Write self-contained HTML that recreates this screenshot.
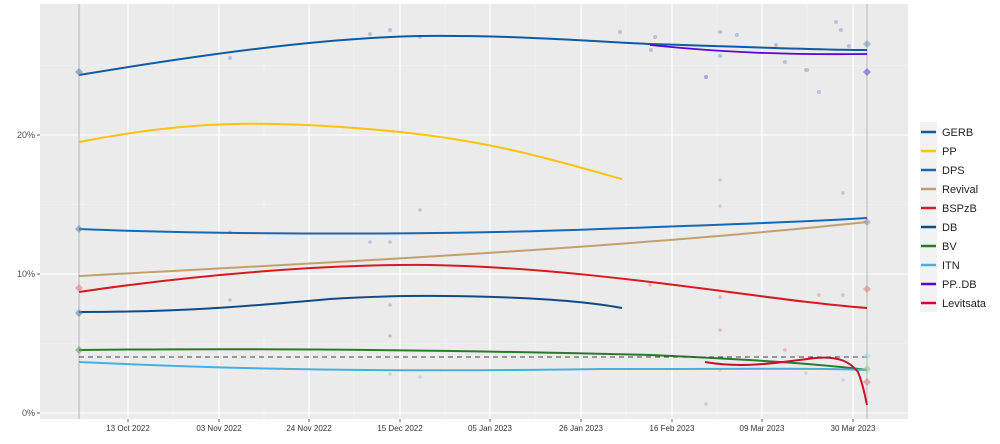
<!DOCTYPE html>
<html><head><meta charset="utf-8"><style>body{margin:0;background:#fff}svg{display:block;font-family:"Liberation Sans",sans-serif}</style></head><body>
<svg width="1000" height="444" viewBox="0 0 1000 444">
<rect x="40" y="4" width="868" height="415" fill="#ebebeb"/>
<g stroke="#f4f4f4" stroke-width="0.6">
<line x1="40" x2="908" y1="343.5" y2="343.5"/><line x1="40" x2="908" y1="204.5" y2="204.5"/><line x1="40" x2="908" y1="65.5" y2="65.5"/>
<line x1="83" x2="83" y1="4" y2="419"/><line x1="173" x2="173" y1="4" y2="419"/><line x1="264" x2="264" y1="4" y2="419"/><line x1="354" x2="354" y1="4" y2="419"/><line x1="445" x2="445" y1="4" y2="419"/><line x1="535" x2="535" y1="4" y2="419"/><line x1="626" x2="626" y1="4" y2="419"/><line x1="717" x2="717" y1="4" y2="419"/><line x1="807" x2="807" y1="4" y2="419"/>
</g>
<g stroke="#fff" stroke-width="1.1">
<line x1="40" x2="908" y1="413" y2="413"/><line x1="40" x2="908" y1="274" y2="274"/><line x1="40" x2="908" y1="135" y2="135"/>
<line x1="128" x2="128" y1="4" y2="419"/><line x1="219" x2="219" y1="4" y2="419"/><line x1="309" x2="309" y1="4" y2="419"/><line x1="400" x2="400" y1="4" y2="419"/><line x1="490" x2="490" y1="4" y2="419"/><line x1="581" x2="581" y1="4" y2="419"/><line x1="672" x2="672" y1="4" y2="419"/><line x1="762" x2="762" y1="4" y2="419"/><line x1="853" x2="853" y1="4" y2="419"/>
</g>
<line x1="79" x2="79" y1="4" y2="419" stroke="#aaa" stroke-width="0.8"/>
<line x1="867" x2="867" y1="4" y2="419" stroke="#aaa" stroke-width="0.8"/>
<g opacity="0.5" fill="#8899cc">
<circle cx="230" cy="58" r="2"/><circle cx="370" cy="34" r="2"/><circle cx="390" cy="30" r="2"/><circle cx="420" cy="37" r="2"/><circle cx="620" cy="32" r="2"/>
<circle cx="651" cy="50" r="2"/><circle cx="655" cy="37" r="2"/><circle cx="706" cy="77" r="2" fill="#6a5acd"/><circle cx="720" cy="32" r="2"/><circle cx="720" cy="56" r="2"/><circle cx="737" cy="35" r="2"/><circle cx="776" cy="45" r="2"/><circle cx="785" cy="62" r="2"/><circle cx="806" cy="70" r="2"/><circle cx="819" cy="92" r="2"/><circle cx="807" cy="70" r="2"/><circle cx="836" cy="22" r="2"/><circle cx="841" cy="30" r="2"/><circle cx="849" cy="46" r="2"/>
<circle cx="230" cy="232" r="1.8" fill="#999"/><circle cx="370" cy="242" r="1.8"/><circle cx="390" cy="242" r="1.8"/><circle cx="420" cy="210" r="1.8" fill="#999"/><circle cx="720" cy="180" r="1.8" fill="#d99"/><circle cx="720" cy="206" r="1.8" fill="#caa"/><circle cx="843" cy="193" r="1.8" fill="#99a"/>
<circle cx="230" cy="300" r="1.8" fill="#c88"/><circle cx="390" cy="305" r="1.8" fill="#999"/><circle cx="650" cy="285" r="1.8" fill="#d88"/><circle cx="720" cy="297" r="1.8" fill="#d88"/><circle cx="720" cy="330" r="1.8" fill="#d88"/><circle cx="785" cy="350" r="1.8" fill="#d88"/><circle cx="819" cy="295" r="1.8" fill="#d88"/><circle cx="843" cy="295" r="1.8" fill="#d88"/>
<circle cx="390" cy="336" r="1.8" fill="#999"/><circle cx="390" cy="374" r="1.8" fill="#9cc"/><circle cx="420" cy="377" r="1.8" fill="#9cc"/><circle cx="720" cy="370" r="1.8" fill="#9cc"/><circle cx="806" cy="373" r="1.8" fill="#9cc"/><circle cx="843" cy="380" r="1.8" fill="#9cc"/><circle cx="706" cy="404" r="1.8" fill="#aaa"/>
</g>
<g fill="none" stroke-width="2">
<path d="M79,75 C200,55 320,38 420,36 C520,35 600,42 650,44 C750,47 820,50 867,50" stroke="#0e5aa7"/>
<path d="M650,45 C720,52 780,55 867,54" stroke="#5b00d8" stroke-width="1.8"/>
<path d="M79,142 C180,122 260,118 400,132 C500,142 570,165 622,179" stroke="#ffc20e"/>
<path d="M79,229 C200,234 420,236 600,229 C720,225 800,222 867,218" stroke="#1468b8"/>
<path d="M79,276 C300,264 600,250 867,222" stroke="#c2a06e"/>
<path d="M79,292 C200,274 330,264 430,265 C600,268 760,300 867,308" stroke="#d71920"/>
<path d="M79,312 C180,312 240,307 330,299 C420,293 560,296 622,308" stroke="#114b85"/>
<path d="M79,350 C250,348 450,350 650,355 C760,360 820,364 867,370" stroke="#2b7a2b"/>
<path d="M79,362 C250,370 400,372 600,369 C760,369 820,368 867,370" stroke="#45b0e0"/>
<path d="M705,362 C740,368 770,364 815,358 C840,356 850,362 858,372 C863,384 865,396 867,405" stroke="#c8102e"/>
</g>
<line x1="79" x2="867" y1="357" y2="357" stroke="#444" stroke-width="1" stroke-dasharray="5,4"/>
<g opacity="0.6">
<path d="M79,68l4,4l-4,4l-4,-4z" fill="#6688aa"/><path d="M79,225l4,4l-4,4l-4,-4z" fill="#6688aa"/><path d="M79,284l4,4l-4,4l-4,-4z" fill="#e08090"/><path d="M79,309l4,4l-4,4l-4,-4z" fill="#6688aa"/><path d="M79,346l4,4l-4,4l-4,-4z" fill="#6a9a6a"/>
<path d="M867,40l4,4l-4,4l-4,-4z" fill="#7799bb"/><path d="M867,68l4,4l-4,4l-4,-4z" fill="#6655dd"/><path d="M867,218l4,4l-4,4l-4,-4z" fill="#99a"/><path d="M867,285l4,4l-4,4l-4,-4z" fill="#e08090"/><path d="M867,352l4,4l-4,4l-4,-4z" fill="#aadddd"/><path d="M867,365l4,4l-4,4l-4,-4z" fill="#9c9"/><path d="M867,378l4,4l-4,4l-4,-4z" fill="#e08090"/>
</g>
<g font-size="9" fill="#4d4d4d" text-anchor="end">
<text x="35" y="416">0%</text><text x="35" y="277">10%</text><text x="35" y="138">20%</text>
</g>
<g stroke="#333" stroke-width="0.8"><line x1="37" x2="40" y1="413" y2="413"/><line x1="37" x2="40" y1="274" y2="274"/><line x1="37" x2="40" y1="135" y2="135"/>
<line x1="128" x2="128" y1="419" y2="422"/><line x1="219" x2="219" y1="419" y2="422"/><line x1="309" x2="309" y1="419" y2="422"/><line x1="400" x2="400" y1="419" y2="422"/><line x1="490" x2="490" y1="419" y2="422"/><line x1="581" x2="581" y1="419" y2="422"/><line x1="672" x2="672" y1="419" y2="422"/><line x1="762" x2="762" y1="419" y2="422"/><line x1="853" x2="853" y1="419" y2="422"/></g>
<g font-size="8" fill="#333" text-anchor="middle">
<text x="128" y="431">13 Oct 2022</text><text x="219" y="431">03 Nov 2022</text><text x="309" y="431">24 Nov 2022</text><text x="400" y="431">15 Dec 2022</text><text x="490" y="431">05 Jan 2023</text><text x="581" y="431">26 Jan 2023</text><text x="672" y="431">16 Feb 2023</text><text x="762" y="431">09 Mar 2023</text><text x="853" y="431">30 Mar 2023</text>
</g>
<rect x="920" y="122" width="17" height="190" fill="#f2f2f2"/>
<g stroke-width="2.5">
<line x1="921" x2="936" y1="132" y2="132" stroke="#0e5aa7"/><line x1="921" x2="936" y1="151" y2="151" stroke="#ffc20e"/><line x1="921" x2="936" y1="170" y2="170" stroke="#1468b8"/><line x1="921" x2="936" y1="189" y2="189" stroke="#c2a06e"/><line x1="921" x2="936" y1="208" y2="208" stroke="#d71920"/><line x1="921" x2="936" y1="227" y2="227" stroke="#114b85"/><line x1="921" x2="936" y1="246" y2="246" stroke="#2b7a2b"/><line x1="921" x2="936" y1="265" y2="265" stroke="#45b0e0"/><line x1="921" x2="936" y1="284" y2="284" stroke="#5b00d8"/><line x1="921" x2="936" y1="303" y2="303" stroke="#c8102e"/>
</g>
<g font-size="11" fill="#222">
<text x="942" y="136">GERB</text><text x="942" y="155">PP</text><text x="942" y="174">DPS</text><text x="942" y="193">Revival</text><text x="942" y="212">BSPzB</text><text x="942" y="231">DB</text><text x="942" y="250">BV</text><text x="942" y="269">ITN</text><text x="942" y="288">PP..DB</text><text x="942" y="307">Levitsata</text>
</g>
</svg>
</body></html>
